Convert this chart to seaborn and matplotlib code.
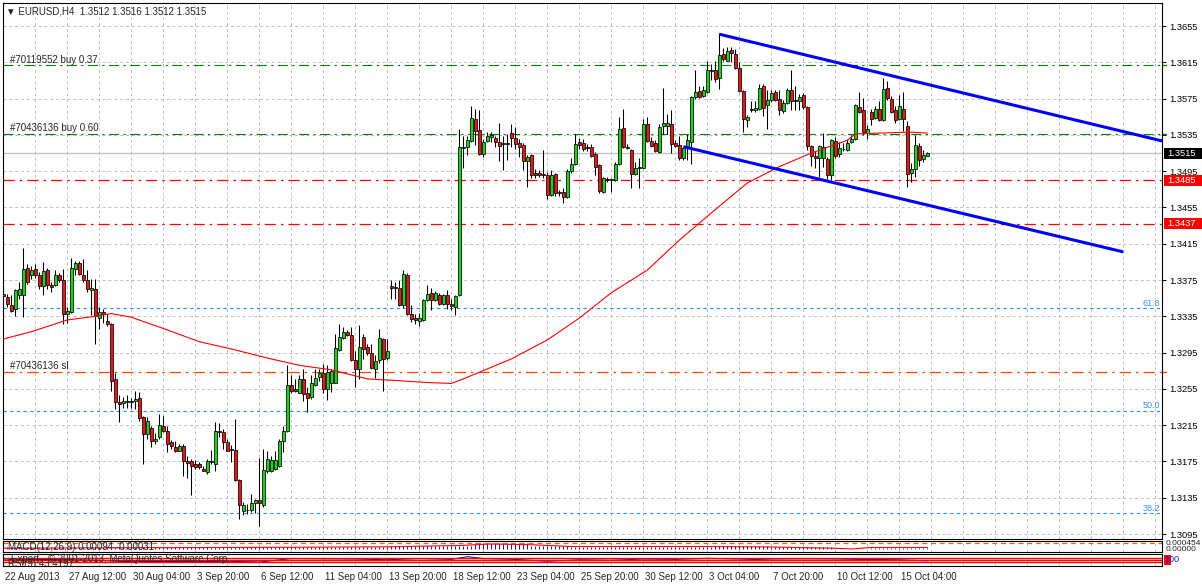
import numpy as np
import matplotlib
matplotlib.use("Agg")
import matplotlib.pyplot as plt
import matplotlib.transforms as mtransforms
from matplotlib.patches import Rectangle
import seaborn as sns

# EURUSD H4 candles (22 Aug - 15 Oct 2013)
opens = [1.3360, 1.3356, 1.3348, 1.3343, 1.3358, 1.3358, 1.3388, 1.3380, 1.3387, 1.3380,
         1.3368, 1.3386, 1.3370, 1.3370, 1.3381, 1.3375, 1.3337, 1.3340, 1.3387, 1.3394,
         1.3380, 1.3375, 1.3364, 1.3365, 1.3333, 1.3340, 1.3330, 1.3327, 1.3266, 1.3241,
         1.3239, 1.3242, 1.3241, 1.3242, 1.3245, 1.3224, 1.3205, 1.3212, 1.3197, 1.3202,
         1.3214, 1.3209, 1.3196, 1.3191, 1.3187, 1.3192, 1.3176, 1.3176, 1.3172, 1.3172,
         1.3167, 1.3163, 1.3176, 1.3172, 1.3209, 1.3208, 1.3196, 1.3188, 1.3188, 1.3154,
         1.3120, 1.3122, 1.3122, 1.3129, 1.3132, 1.3127, 1.3164, 1.3165, 1.3167, 1.3170,
         1.3198, 1.3209, 1.3259, 1.3255, 1.3251, 1.3266, 1.3251, 1.3246, 1.3259, 1.3268,
         1.3273, 1.3255, 1.3262, 1.3262, 1.3298, 1.3311, 1.3318, 1.3314, 1.3287, 1.3277,
         1.3312, 1.3301, 1.3295, 1.3277, 1.3287, 1.3310, 1.3289, 1.3368, 1.3366, 1.3366,
         1.3348, 1.3381, 1.3338, 1.3333, 1.3330, 1.3331, 1.3353, 1.3361, 1.3353, 1.3359,
         1.3349, 1.3359, 1.3349, 1.3345, 1.3358, 1.3521, 1.3522, 1.3528, 1.3553, 1.3540,
         1.3514, 1.3528, 1.3533, 1.3532, 1.3527, 1.3526, 1.3525, 1.3537, 1.3532, 1.3526,
         1.3524, 1.3506, 1.3513, 1.3493, 1.3493, 1.3492, 1.3491, 1.3469, 1.3492, 1.3472,
         1.3472, 1.3466, 1.3495, 1.3503, 1.3527, 1.3526, 1.3522, 1.3522, 1.3514, 1.3502,
         1.3472, 1.3486, 1.3485, 1.3485, 1.3503, 1.3543, 1.3522, 1.3518, 1.3492, 1.3500,
         1.3499, 1.3547, 1.3528, 1.3526, 1.3516, 1.3545, 1.3545, 1.3547, 1.3526, 1.3524,
         1.3509, 1.3520, 1.3527, 1.3577, 1.3583, 1.3578, 1.3582, 1.3605, 1.3606, 1.3598,
         1.3624, 1.3617, 1.3629, 1.3624, 1.3609, 1.3583, 1.3551, 1.3563, 1.3562, 1.3564,
         1.3589, 1.3568, 1.3574, 1.3582, 1.3575, 1.3561, 1.3570, 1.3585, 1.3574, 1.3572,
         1.3579, 1.3566, 1.3523, 1.3512, 1.3510, 1.3509, 1.3508, 1.3491, 1.3528, 1.3514,
         1.3519, 1.3518, 1.3527, 1.3530, 1.3566, 1.3562, 1.3537, 1.3560, 1.3554, 1.3563,
         1.3551, 1.3587, 1.3575, 1.3562, 1.3552, 1.3564, 1.3545, 1.3493, 1.3497, 1.3523,
         1.3508, 1.3512]
highs = [1.3367, 1.3360, 1.3358, 1.3365, 1.3373, 1.3410, 1.3393, 1.3391, 1.3393, 1.3384,
         1.3395, 1.3388, 1.3373, 1.3386, 1.3383, 1.3387, 1.3345, 1.3399, 1.3396, 1.3396,
         1.3398, 1.3386, 1.3376, 1.3376, 1.3345, 1.3343, 1.3338, 1.3328, 1.3272, 1.3248,
         1.3246, 1.3248, 1.3245, 1.3253, 1.3252, 1.3225, 1.3224, 1.3214, 1.3206, 1.3227,
         1.3225, 1.3214, 1.3199, 1.3198, 1.3194, 1.3194, 1.3181, 1.3178, 1.3177, 1.3174,
         1.3170, 1.3178, 1.3188, 1.3218, 1.3217, 1.3211, 1.3200, 1.3193, 1.3222, 1.3156,
         1.3130, 1.3128, 1.3139, 1.3134, 1.3179, 1.3189, 1.3187, 1.3181, 1.3186, 1.3200,
         1.3214, 1.3281, 1.3270, 1.3266, 1.3270, 1.3277, 1.3257, 1.3270, 1.3277, 1.3277,
         1.3282, 1.3281, 1.3277, 1.3315, 1.3326, 1.3323, 1.3320, 1.3323, 1.3297, 1.3325,
         1.3315, 1.3305, 1.3305, 1.3292, 1.3321, 1.3311, 1.3310, 1.3375, 1.3373, 1.3375,
         1.3386, 1.3383, 1.3348, 1.3337, 1.3339, 1.3354, 1.3369, 1.3366, 1.3363, 1.3361,
         1.3360, 1.3364, 1.3354, 1.3359, 1.3541, 1.3534, 1.3534, 1.3567, 1.3564, 1.3562,
         1.3531, 1.3538, 1.3538, 1.3534, 1.3548, 1.3534, 1.3536, 1.3547, 1.3544, 1.3530,
         1.3526, 1.3513, 1.3514, 1.3497, 1.3496, 1.3518, 1.3494, 1.3496, 1.3493, 1.3474,
         1.3477, 1.3497, 1.3509, 1.3536, 1.3532, 1.3530, 1.3525, 1.3525, 1.3516, 1.3503,
         1.3489, 1.3489, 1.3488, 1.3505, 1.3555, 1.3564, 1.3525, 1.3519, 1.3505, 1.3510,
         1.3552, 1.3555, 1.3533, 1.3529, 1.3547, 1.3587, 1.3558, 1.3562, 1.3529, 1.3534,
         1.3522, 1.3536, 1.3578, 1.3607, 1.3589, 1.3589, 1.3617, 1.3613, 1.3617, 1.3647,
         1.3631, 1.3632, 1.3632, 1.3630, 1.3615, 1.3585, 1.3557, 1.3572, 1.3572, 1.3591,
         1.3591, 1.3585, 1.3585, 1.3585, 1.3585, 1.3574, 1.3587, 1.3606, 1.3589, 1.3580,
         1.3581, 1.3567, 1.3524, 1.3517, 1.3524, 1.3537, 1.3511, 1.3530, 1.3533, 1.3527,
         1.3526, 1.3530, 1.3535, 1.3569, 1.3582, 1.3576, 1.3546, 1.3563, 1.3567, 1.3572,
         1.3598, 1.3594, 1.3578, 1.3567, 1.3579, 1.3582, 1.3550, 1.3504, 1.3535, 1.3526,
         1.3518, 1.3516]
lows = [1.3347, 1.3345, 1.3340, 1.3335, 1.3354, 1.3334, 1.3371, 1.3376, 1.3377, 1.3365,
        1.3358, 1.3365, 1.3362, 1.3368, 1.3373, 1.3327, 1.3328, 1.3339, 1.3380, 1.3380,
        1.3373, 1.3362, 1.3336, 1.3305, 1.3321, 1.3328, 1.3324, 1.3253, 1.3233, 1.3219,
        1.3234, 1.3234, 1.3234, 1.3233, 1.3220, 1.3172, 1.3200, 1.3191, 1.3194, 1.3200,
        1.3207, 1.3185, 1.3189, 1.3185, 1.3186, 1.3159, 1.3157, 1.3138, 1.3167, 1.3167,
        1.3164, 1.3161, 1.3172, 1.3165, 1.3202, 1.3189, 1.3186, 1.3174, 1.3153, 1.3111,
        1.3116, 1.3117, 1.3119, 1.3118, 1.3104, 1.3125, 1.3162, 1.3163, 1.3166, 1.3169,
        1.3185, 1.3208, 1.3251, 1.3252, 1.3250, 1.3242, 1.3230, 1.3244, 1.3258, 1.3264,
        1.3251, 1.3243, 1.3252, 1.3261, 1.3297, 1.3310, 1.3313, 1.3286, 1.3257, 1.3266,
        1.3288, 1.3292, 1.3277, 1.3267, 1.3284, 1.3253, 1.3287, 1.3354, 1.3354, 1.3346,
        1.3344, 1.3336, 1.3329, 1.3326, 1.3324, 1.3330, 1.3352, 1.3342, 1.3352, 1.3348,
        1.3348, 1.3343, 1.3342, 1.3336, 1.3357, 1.3499, 1.3513, 1.3527, 1.3524, 1.3513,
        1.3511, 1.3527, 1.3527, 1.3522, 1.3506, 1.3496, 1.3507, 1.3522, 1.3519, 1.3511,
        1.3496, 1.3478, 1.3488, 1.3488, 1.3489, 1.3488, 1.3464, 1.3468, 1.3468, 1.3468,
        1.3460, 1.3465, 1.3493, 1.3502, 1.3519, 1.3517, 1.3517, 1.3511, 1.3491, 1.3471,
        1.3471, 1.3483, 1.3472, 1.3484, 1.3502, 1.3520, 1.3519, 1.3476, 1.3491, 1.3476,
        1.3498, 1.3527, 1.3522, 1.3516, 1.3515, 1.3536, 1.3536, 1.3515, 1.3522, 1.3507,
        1.3507, 1.3507, 1.3503, 1.3575, 1.3576, 1.3577, 1.3581, 1.3595, 1.3593, 1.3586,
        1.3617, 1.3616, 1.3615, 1.3608, 1.3582, 1.3538, 1.3544, 1.3560, 1.3560, 1.3562,
        1.3556, 1.3541, 1.3571, 1.3572, 1.3557, 1.3559, 1.3569, 1.3562, 1.3562, 1.3562,
        1.3564, 1.3518, 1.3501, 1.3498, 1.3489, 1.3500, 1.3486, 1.3485, 1.3509, 1.3511,
        1.3517, 1.3517, 1.3526, 1.3529, 1.3559, 1.3535, 1.3530, 1.3546, 1.3553, 1.3550,
        1.3550, 1.3574, 1.3559, 1.3548, 1.3551, 1.3539, 1.3478, 1.3483, 1.3489, 1.3501,
        1.3505, 1.3512]
closes = [1.3357, 1.3349, 1.3341, 1.3364, 1.3365, 1.3387, 1.3373, 1.3386, 1.3380, 1.3368,
          1.3385, 1.3369, 1.3367, 1.3380, 1.3375, 1.3338, 1.3341, 1.3388, 1.3394, 1.3382,
          1.3375, 1.3365, 1.3366, 1.3335, 1.3340, 1.3337, 1.3327, 1.3264, 1.3241, 1.3238,
          1.3242, 1.3240, 1.3241, 1.3244, 1.3223, 1.3205, 1.3220, 1.3197, 1.3200, 1.3215,
          1.3209, 1.3194, 1.3192, 1.3186, 1.3192, 1.3175, 1.3173, 1.3170, 1.3169, 1.3169,
          1.3165, 1.3175, 1.3174, 1.3209, 1.3207, 1.3196, 1.3187, 1.3188, 1.3154, 1.3127,
          1.3127, 1.3121, 1.3129, 1.3132, 1.3129, 1.3166, 1.3178, 1.3177, 1.3177, 1.3198,
          1.3209, 1.3259, 1.3253, 1.3253, 1.3266, 1.3249, 1.3245, 1.3262, 1.3267, 1.3273,
          1.3255, 1.3274, 1.3275, 1.3300, 1.3312, 1.3318, 1.3314, 1.3287, 1.3277, 1.3301,
          1.3299, 1.3295, 1.3278, 1.3286, 1.3311, 1.3288, 1.3297, 1.3366, 1.3367, 1.3347,
          1.3382, 1.3337, 1.3332, 1.3331, 1.3333, 1.3353, 1.3360, 1.3353, 1.3361, 1.3349,
          1.3359, 1.3349, 1.3346, 1.3357, 1.3522, 1.3522, 1.3529, 1.3554, 1.3539, 1.3514,
          1.3527, 1.3534, 1.3535, 1.3527, 1.3523, 1.3525, 1.3526, 1.3532, 1.3525, 1.3522,
          1.3506, 1.3511, 1.3491, 1.3491, 1.3491, 1.3491, 1.3469, 1.3491, 1.3471, 1.3471,
          1.3467, 1.3495, 1.3503, 1.3525, 1.3524, 1.3519, 1.3520, 1.3512, 1.3500, 1.3473,
          1.3487, 1.3485, 1.3486, 1.3503, 1.3542, 1.3522, 1.3521, 1.3492, 1.3498, 1.3499,
          1.3547, 1.3528, 1.3523, 1.3517, 1.3544, 1.3548, 1.3548, 1.3525, 1.3523, 1.3509,
          1.3520, 1.3529, 1.3577, 1.3582, 1.3577, 1.3584, 1.3606, 1.3606, 1.3597, 1.3623,
          1.3619, 1.3627, 1.3625, 1.3609, 1.3583, 1.3552, 1.3555, 1.3562, 1.3565, 1.3587,
          1.3565, 1.3574, 1.3581, 1.3573, 1.3562, 1.3570, 1.3585, 1.3572, 1.3572, 1.3577,
          1.3566, 1.3523, 1.3512, 1.3509, 1.3523, 1.3522, 1.3491, 1.3529, 1.3512, 1.3520,
          1.3519, 1.3526, 1.3531, 1.3568, 1.3560, 1.3538, 1.3542, 1.3552, 1.3564, 1.3551,
          1.3586, 1.3576, 1.3560, 1.3551, 1.3567, 1.3553, 1.3492, 1.3497, 1.3524, 1.3507,
          1.3513, 1.3515]

# moving average (red line), read at a few bars
ma_bars = [0, 7, 16, 23, 27, 32, 41, 49, 57, 66, 74, 82, 91, 99, 106, 112, 115,
           127, 136, 144, 152, 161, 169, 177, 186, 194, 202, 211, 213, 219, 227, 231]
ma_values = [1.3310, 1.3318, 1.3331, 1.3335, 1.3338, 1.3334, 1.3320, 1.3307, 1.3299,
             1.3289, 1.3281, 1.3276, 1.3266, 1.3264, 1.3262, 1.3261, 1.3266, 1.3288,
             1.3309, 1.3333, 1.3361, 1.3386, 1.3419, 1.3449, 1.3482, 1.3500, 1.3515,
             1.3529, 1.3536, 1.3537, 1.3538, 1.3537]

# channel (two anchor points per line)
upper_bars, upper_prices = [179, 290], [1.3646, 1.3528]
lower_bars, lower_prices = [170, 280], [1.3522, 1.3406]

fib_prices = [1.3344, 1.3231, 1.3118]
fib_labels = ["61.8", "50.0", "38.2"]

buy1_price, buy2_price, sl_price = 1.3612, 1.3536, 1.3274
red_levels = [1.3485, 1.3437]
bid_price = 1.3515

price_ticks = [1.3655, 1.3615, 1.3575, 1.3535, 1.3495, 1.3455, 1.3415, 1.3375,
               1.3335, 1.3295, 1.3255, 1.3215, 1.3175, 1.3135, 1.3095]
date_bars = [0, 16, 32, 48, 64, 80, 96, 112, 128, 144, 160, 176, 192, 208, 224]
date_labels = ["22 Aug 2013", "27 Aug 12:00", "30 Aug 04:00", "3 Sep 20:00", "6 Sep 12:00",
               "11 Sep 04:00", "13 Sep 20:00", "18 Sep 12:00", "23 Sep 04:00",
               "25 Sep 20:00", "30 Sep 12:00", "3 Oct 04:00", "7 Oct 20:00",
               "10 Oct 12:00", "15 Oct 04:00"]

# MACD sub window (histogram as runs of bars, signal at a few bars)
macd_levels = [0.0005, 0.0007, 0.0009, 0.0012, 0.0023, 0.0012, 0.0005, 0.0010, 0.0005, -0.0002, 0.0001]
macd_counts = [74, 23, 17, 4, 14, 10, 36, 14, 16, 9, 15]
signal_bars = [0, 30, 74, 97, 114, 122, 132, 142, 178, 192, 208, 212, 217, 231]
signal_vals = [0.0001, 0.0003, 0.0005, 0.0007, 0.0012, 0.0018, 0.0015, 0.0008,
               0.0008, 0.0006, 0.0001, -0.0002, 0.0004, 0.0004]

# RSI sub window
rsi_bars = [0, 8, 16, 24, 32, 40, 48, 56, 64, 72, 80, 88, 96, 104, 112, 116, 120,
            128, 136, 144, 152, 160, 168, 176, 184, 192, 200, 208, 216, 224, 231]
rsi_values = [50, 55, 52, 48, 35, 38, 36, 40, 33, 62, 60, 58, 52, 62, 55, 78, 62,
              55, 40, 52, 48, 58, 55, 64, 58, 50, 48, 50, 55, 52, 43]
rsi_levels = [70, 50, 30]

sns.set_style("white")
plt.rcParams['font.family'] = ['Liberation Sans', 'DejaVu Sans']
plt.rcParams['axes.linewidth'] = 0.8

W, H = 1202, 584
fig = plt.figure(figsize=(W / 100, H / 100), dpi=100)


def panel(top, bottom):
    return fig.add_axes([3 / W, 1 - bottom / H, 1159 / W, (bottom - top) / H])


ax = panel(3, 539)
ax_macd = panel(541, 552)
ax_rsi = panel(554, 566)

x0 = -0.33 / 4
x1 = x0 + 1159 / 4
grid_ls = (0, (3, 3))
grid_col = '#c0c0c0'
fs = 7

o, h, l, c = map(np.array, (opens, highs, lows, closes))
bars = np.arange(len(o))
up = c >= o

# order / level lines
trans = mtransforms.blended_transform_factory(ax.transAxes, ax.transData)
ax.axhline(buy1_price, color='#008000', lw=0.8, ls=(0, (9, 4, 2, 4)), zorder=2)
ax.axhline(buy2_price, color='#008000', lw=0.8, ls=(0, (9, 4, 2, 4)), zorder=2)
ax.axhline(bid_price, color='#c0c0c0', lw=0.9, zorder=2)
for p in red_levels:
    ax.axhline(p, color='#ff0000', lw=0.9, ls=(0, (9, 4, 2, 4)), zorder=2)
ax.axhline(sl_price, color='#ff4500', lw=0.9, ls=(0, (9, 4, 2, 4)), zorder=2)
for p, lab in zip(fib_prices, fib_labels):
    ax.axhline(p, color='#1e90ff', lw=0.8, ls=(0, (3, 3)), zorder=2)
    ax.text(1157 / 1159, p, lab, transform=mtransforms.offset_copy(trans, fig=fig, y=2.5, units='dots'),
            ha='right', va='baseline', fontsize=6.5, color='#3a8ee6')

above = mtransforms.offset_copy(trans, fig=fig, y=2.5, units='dots')
ax.text(7 / 1159, buy1_price, "#70119552 buy 0.37", transform=above, fontsize=fs, va='baseline')
ax.text(7 / 1159, buy2_price, "#70436136 buy 0.60", transform=above, fontsize=fs, va='baseline')
ax.text(7 / 1159, sl_price, "#70436136 sl", transform=above, fontsize=fs, va='baseline')

# candles
ax.vlines(bars, l, h, color='black', lw=0.75, zorder=3)
ax.bar(bars, np.maximum(np.abs(c - o), 0.00004), bottom=np.minimum(o, c), width=0.78,
       color=np.where(up, '#1fd21f', '#e81818'), edgecolor='black', linewidth=0.55, zorder=4)

sns.lineplot(x=ma_bars, y=ma_values, ax=ax, color='#ff0000', linewidth=0.8, zorder=4.5)
ax.plot(upper_bars, upper_prices, color='#0000ff', lw=2.2, zorder=5, solid_capstyle='butt')
ax.plot(lower_bars, lower_prices, color='#0000ff', lw=2.2, zorder=5, solid_capstyle='butt')

ax.text(3 / 1159, 1 - 8 / 536, "\u25bc EURUSD,H4  1.3512 1.3516 1.3512 1.3515",
        transform=ax.transAxes, va='center', fontsize=fs)

ax.set_xlim(x0, x1)
ax.set_ylim(1.30895, 1.36804)
ax.set_xticks(np.arange(0, 290, 8))
ax.set_yticks(price_ticks)
ax.set_yticklabels([f"{t:.4f}" for t in price_ticks])
ax.yaxis.tick_right()
ax.tick_params(axis='y', right=True, left=False, length=3, width=0.7, pad=2,
               labelsize=6.7, colors='black')
ax.tick_params(axis='x', bottom=False, labelbottom=False)
ax.grid(True, color=grid_col, ls=grid_ls, lw=0.7)
ax.set_axisbelow(True)
ax.set_xlabel('')
ax.set_ylabel('')

# right side price boxes and coloured tick marks
box_h = 11 / 9071.4
for p, fc in [(bid_price, 'black'), (red_levels[0], '#ff0000'), (red_levels[1], '#ff0000')]:
    ax.add_patch(Rectangle((1.0017, p - box_h / 2), 0.034, box_h, transform=trans,
                           facecolor=fc, edgecolor='none', clip_on=False, zorder=6))
    ax.text(1.0045, p, f"{p:.4f}", transform=trans, color='white', fontsize=6.7,
            va='center', ha='left', clip_on=False, zorder=7)
for p, col in [(buy1_price, '#008000'), (buy2_price, '#008000'), (sl_price, '#ff4500')]:
    ax.plot([1.0, 1.0035], [p, p], transform=trans, color=col, lw=1, clip_on=False)

# MACD
macd_hist = np.repeat(macd_levels, macd_counts)
ax_macd.vlines(bars, 0, macd_hist, color='#1c1cc8', lw=0.75)
sns.lineplot(x=signal_bars, y=signal_vals, ax=ax_macd, color='#ff0000', linewidth=0.8)
ax_macd.axhline(0.0021, color='#ff5a00', lw=0.9, ls=(0, (4, 3)))
ax_macd.set_xlim(x0, x1)
ax_macd.set_ylim(-0.0014, 0.0030)
ax_macd.set_xticks(np.arange(0, 290, 8))
ax_macd.set_yticks([])
ax_macd.tick_params(axis='x', bottom=False, labelbottom=False)
ax_macd.grid(True, axis='x', color=grid_col, ls=grid_ls, lw=0.7)
ax_macd.set_xlabel('')
ax_macd.set_ylabel('')
ax_macd.text(5 / 1159, 0.42, "MACD(12,26,9) 0.00094 -0.00031", transform=ax_macd.transAxes,
             fontsize=fs, va='center', clip_on=True)
ax_macd.text(1.003, 0.75, "0.000454", transform=ax_macd.transAxes, fontsize=6, va='center')
ax_macd.text(1.003, 0.2, "0.00000", transform=ax_macd.transAxes, fontsize=6, va='center')

# RSI
sns.lineplot(x=rsi_bars, y=rsi_values, ax=ax_rsi, color='#1c1c90', linewidth=0.8)
for lv in rsi_levels:
    ax_rsi.axhline(lv, color='#ff0000', lw=1.0)
ax_rsi.set_xlim(x0, x1)
ax_rsi.set_ylim(0, 100)
ax_rsi.set_yticks([])
ax_rsi.set_xticks(date_bars)
ax_rsi.set_xticklabels(date_labels)
ax_rsi.set_xticks(np.arange(0, 290, 8), minor=True)
ax_rsi.tick_params(axis='x', which='major', length=3, width=0.7, pad=1, labelsize=fs)
ax_rsi.tick_params(axis='x', which='minor', length=0)
ax_rsi.grid(True, axis='x', which='both', color=grid_col, ls=grid_ls, lw=0.7)
ax_rsi.set_xlabel('')
ax_rsi.set_ylabel('')
shift = mtransforms.ScaledTranslation(2 / 100, 0, fig.dpi_scale_trans)
for lab in ax_rsi.get_xticklabels():
    lab.set_horizontalalignment('left')
    lab.set_transform(lab.get_transform() + shift)
ax_rsi.text(8 / 1159, 0.62, "Expert - \u00a9 2001-2013, MetaQuotes Software Corp.",
            transform=ax_rsi.transAxes, fontsize=fs, va='center', clip_on=True)
ax_rsi.text(5 / 1159, 0.2, "RSI(9) 43.4197", transform=ax_rsi.transAxes,
            fontsize=fs, va='center', clip_on=True)
ax_rsi.add_patch(Rectangle((1.0017, 0.05), 0.006, 0.9, transform=ax_rsi.transAxes,
                           facecolor='#ff0000', edgecolor='none', clip_on=False))
ax_rsi.text(1.002, 0.5, "100", transform=ax_rsi.transAxes, fontsize=6.5, va='center',
            color='#1c1cc8', clip_on=False)

for a in (ax, ax_macd, ax_rsi):
    for s in a.spines.values():
        s.set_color('black')

fig.savefig("out.png", dpi=100)
